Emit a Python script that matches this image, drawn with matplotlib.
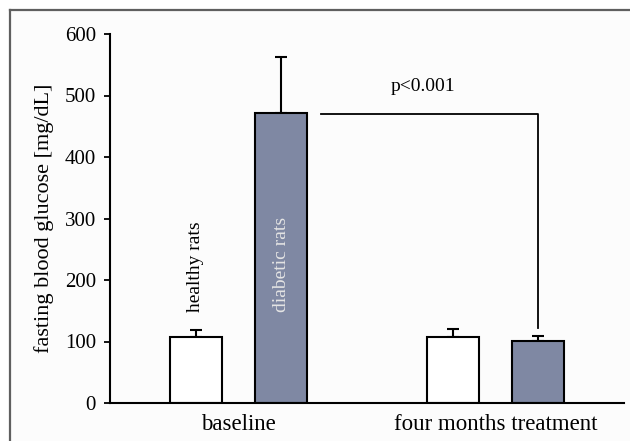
import numpy as np
import matplotlib
matplotlib.use("Agg")
import matplotlib.pyplot as plt
from matplotlib.lines import Line2D
from matplotlib.patches import Rectangle

plt.rcParams['font.family'] = ['Liberation Serif', 'DejaVu Serif']

groups = ["baseline", "four months treatment"]
healthy_mean = [107, 107]
healthy_err = [12, 14]
diabetic_mean = [472, 101]
diabetic_err = [90, 8]
p_label = "p<0.001"

fig = plt.figure(figsize=(6.3, 4.41), dpi=100)
W, H = 630, 441

# light panel with a grey frame on left/top
fig.patches.append(Rectangle((9.5 / W, 0), 1, 1 - 9.5 / H, transform=fig.transFigure,
                             facecolor="#fcfcfc", edgecolor="none", zorder=-5))
fig.lines.append(Line2D([9.5 / W, 9.5 / W], [0, 1 - 9.5 / H], transform=fig.transFigure,
                        color="#5f5f5f", lw=1.6, zorder=-4))
fig.lines.append(Line2D([9.5 / W, 1], [1 - 9.5 / H, 1 - 9.5 / H], transform=fig.transFigure,
                        color="#5f5f5f", lw=1.6, zorder=-4))

ax = fig.add_axes([110 / W, 1 - 403 / H, 514 / W, 369 / H])
ax.set_facecolor("none")
ax.set_zorder(2)

x = np.arange(len(groups))
off = 0.166
w = 0.2
ax.bar(x - off, healthy_mean, w, color="white", edgecolor="black", lw=1.5, zorder=2)
ax.bar(x + off, diabetic_mean, w, color="#7f88a3", edgecolor="black", lw=1.5, zorder=2)
ax.errorbar(x - off, healthy_mean, yerr=[np.zeros(2), healthy_err], fmt="none",
            ecolor="black", elinewidth=1.5, capsize=4, capthick=1.5, zorder=1)
ax.errorbar(x + off, diabetic_mean, yerr=[np.zeros(2), diabetic_err], fmt="none",
            ecolor="black", elinewidth=1.5, capsize=4, capthick=1.5, zorder=1)

# significance bracket
ax.plot([0.321, 1 + off, 1 + off], [470, 470, 122], color="black", lw=1.3)
ax.text(0.716, 514, p_label, ha="center", va="center", fontsize=14)

ax.text(-off, 148, "healthy rats", rotation=90, ha="center", va="bottom", fontsize=14)
ax.text(off, 148, "diabetic rats", rotation=90, ha="center", va="bottom", fontsize=14,
        color="#e4e4e4")

ax.set_xlim(-0.5, 1.5)
ax.set_ylim(0, 600)
ax.set_yticks(range(0, 601, 100))
ax.set_xticks(x)
ax.set_xticklabels(groups, fontsize=16.5)
ax.tick_params(axis="x", length=0, pad=8)
ax.tick_params(axis="y", labelsize=15, length=4, width=1.3, pad=6)
ax.set_ylabel("fasting blood glucose [mg/dL]", fontsize=16, labelpad=8)
for s in ["top", "right"]:
    ax.spines[s].set_visible(False)
for s in ["left", "bottom"]:
    ax.spines[s].set_linewidth(1.5)

fig.savefig("out.png", dpi=100)
